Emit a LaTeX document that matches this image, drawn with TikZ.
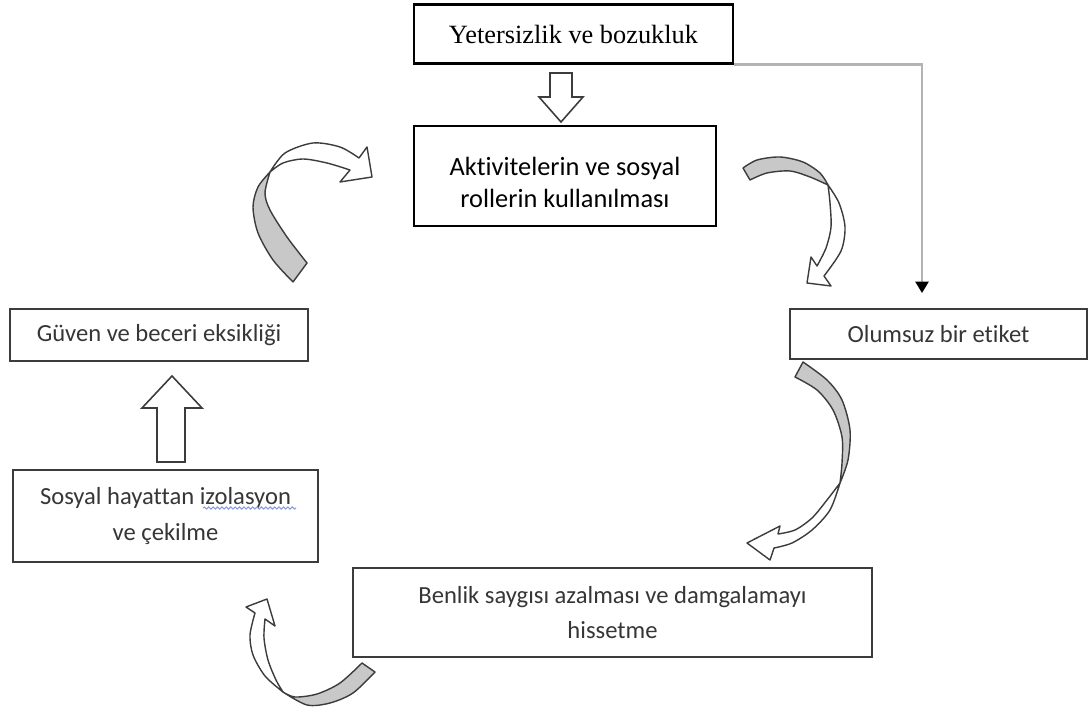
\documentclass[tikz,border=0pt]{standalone}
\usepackage{fontspec}
\setmainfont{Liberation Serif}
\newfontfamily\calibri[Ligatures=NoCommon]{Carlito}
\usetikzlibrary{arrows.meta, positioning, decorations.pathmorphing}
\definecolor{edge}{HTML}{3C3C3C}
\definecolor{txt}{HTML}{363636}
\definecolor{band}{HTML}{C8C8C8}
\definecolor{guide}{HTML}{B4B4B4}
\definecolor{spell}{HTML}{8C9BE0}
\newcommand{\pxu}{0.02cm}

\begin{document}
\begin{tikzpicture}[x=0.02cm, y=-0.02cm,
      box/.style={draw=black, line width=1.2pt, fill=white, inner sep=0pt, align=center,
                  font=\calibri\fontsize{15}{18}\selectfont},
      gbox/.style={draw=edge, line width=1.1pt, fill=white, inner sep=0pt, align=center,
                   text=txt, font=\calibri\fontsize{14}{20}\selectfont},
      hollow/.style={draw=edge, line width=0.9pt, fill=white, line join=miter},
      twist/.style={draw=edge, line width=0.8pt, fill=band, line join=round},
      face/.style={draw=edge, line width=0.8pt, fill=white, line join=round},
      guidearr/.style={guide, line width=1.2pt, -{Triangle[length=6.5pt, width=7.5pt, color=black]}}]
    \useasboundingbox (0,0) rectangle (1088,709);

    % boxes
    \node[box, font=\rmfamily\fontsize{15}{18}\selectfont, minimum width=319*\pxu,
          minimum height=59*\pxu] (yet) at (573.5,34) {Yetersizlik ve bozukluk};
    \node[box, minimum width=302*\pxu, minimum height=100*\pxu] (akt) at (565,176)
          {\rule{0pt}{18pt}Aktivitelerin ve sosyal\\rollerin kullanılması};
    \node[gbox, minimum width=298*\pxu, minimum height=52*\pxu] (guv) at (159,335)
          {Güven ve beceri eksikliği};
    \node[gbox, minimum width=305*\pxu, minimum height=92*\pxu] (sos) at (165.5,516)
          {Sosyal hayattan izolasyon\\ve çekilme};
    \node[gbox, minimum width=297*\pxu, minimum height=50*\pxu] (olu) at (938.5,334)
          {Olumsuz bir etiket};
    \node[gbox, minimum width=519*\pxu, minimum height=89*\pxu] (ben) at (612.5,612.5)
          {Benlik saygısı azalması ve damgalamayı\\hissetme};

    % spell-check squiggle under "izolasyon"
    \draw[spell, line width=0.6pt, decorate,
          decoration={snake, amplitude=0.6pt, segment length=2.5pt}] (203,508) -- (296,508);

    % thin connector
    \coordinate (drop) at (922,293);
    \draw[guidearr] (yet.south east) -| (drop);

    % block arrows
    \draw[hollow] (550,73) -- (572,73) -- (572,97) -- (583,97) -- (561,122) -- (539,97)
          -- (550,97) -- cycle;
    \draw[hollow] (157,462) -- (185,462) -- (185,408) -- (202,408) -- (172,376) -- (142,408)
          -- (157,408) -- cycle;

    % curved arrow: guv -> akt
    \draw[twist] plot[smooth] coordinates {(270,172) (258,187) (253,207) (258,233) (273,260) (293,282)}
          -- plot[smooth] coordinates {(307,263) (287,237) (270,210) (265,193) (270,172)} -- cycle;
    \draw[face] plot[smooth] coordinates {(270,172) (285,153) (313,143) (340,147) (359,158)}
          -- (367,147) -- (372,177) -- (340,182)
          -- plot[smooth] coordinates {(350,170) (327,163) (303,159) (283,163) (270,172)} -- cycle;

    % curved arrow: akt -> olu
    \draw[twist] plot[smooth] coordinates {(828,185) (820,173) (803,162) (780,157) (757,160) (743,168)}
          -- plot[smooth] coordinates {(750,180) (767,173) (790,171) (810,177) (828,185)} -- cycle;
    \draw[face] plot[smooth] coordinates {(828,185) (839,203) (845,227) (841,251) (824,276)}
          -- (831,286) -- (807,283) -- (811,257)
          -- plot[smooth] coordinates {(817,266) (826,248) (831,227) (830,203) (828,185)} -- cycle;

    % curved arrow: olu -> ben
    \draw[twist] plot[smooth] coordinates {(840,483) (848,460) (850,430) (842,400) (827,380) (803,362)}
          -- plot[smooth] coordinates {(795,377) (817,390) (833,410) (842,437) (842,463) (840,483)} -- cycle;
    \draw[face] plot[smooth] coordinates {(840,483) (830,510) (812,530) (792,543) (774,548)}
          -- (770,560) -- (747,543) -- (780,526)
          -- plot[smooth] coordinates {(778,534) (795,530) (812,518) (827,500) (840,483)} -- cycle;

    % curved arrow: ben -> sos
    \draw[twist] plot[smooth] coordinates {(283,692) (295,697) (317,694) (340,683) (362,663)}
          -- plot[smooth] coordinates {(375,672) (353,693) (330,703) (307,705) (283,692)} -- cycle;
    \draw[face] plot[smooth] coordinates {(283,692) (265,676) (253,655) (250,635) (255,613)}
          -- (246,607) -- (267,599) -- (275,626)
          -- plot[smooth] coordinates {(265,619) (264,638) (268,660) (276,680) (283,692)} -- cycle;
  \end{tikzpicture}
\end{document}
